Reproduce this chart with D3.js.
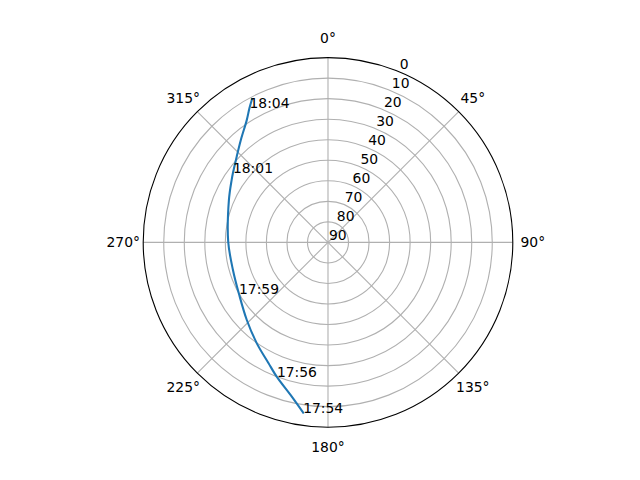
<!DOCTYPE html>
<html>
<head>
<meta charset="utf-8">
<script src="https://cdn.jsdelivr.net/npm/d3@7"></script>
<style>
  body { margin: 0; background: #fff; }
  text { font-family: "DejaVu Sans", sans-serif; font-size: 13.9px; fill: #000; }
</style>
</head>
<body>
<div id="chart"></div>
<script>
'use strict';

// Pass track: azimuth (deg, clockwise from north) and elevation (deg)
const azimuth   = [188.3, 193.2, 200.8, 206.3, 215.3, 226.3, 239.9, 253.7, 270.4, 293.2, 302.9, 306.1, 313.2, 319.6, 326.4, 329.7, 332.1];
const elevation = [  6.2,  12.8,  19.9,  24.5,  29.9,  35.3,  39.9,  41.8,  41.4,  37.5,  34.1,  32.7,  29.0,  24.5,  18.5,  14.2,  11.0];

// Time annotations: index into the track and the label
const labelIndex = [0, 2, 6, 11, 15];
const labelText  = ['17:54', '17:56', '17:59', '18:01', '18:04'];

// Axis ticks
const thetaTicks = [0, 45, 90, 135, 180, 225, 270, 315];
const rTicks     = [0, 10, 20, 30, 40, 50, 60, 70, 80, 90];
const rLabelAngle = 22.5;

const width = 640, height = 480;
const cx = 328, cy = 242.4, R = 184.8;

const svg = d3.select('#chart').append('svg')
  .attr('width', width)
  .attr('height', height);

const g = svg.append('g')
  .attr('transform', 'translate(' + cx + ',' + cy + ')');

// Elevation 90 at the centre, 0 at the rim
const r = d3.scaleLinear().domain([90, 0]).range([0, R]);
const rad = (d) => d * Math.PI / 180;
const px = (az, el) => r(el) * Math.sin(rad(az));
const py = (az, el) => -r(el) * Math.cos(rad(az));

// Grid circles
g.selectAll('.rgrid')
  .data(rTicks.filter((d) => d > 0))
  .enter().append('circle')
    .attr('class', 'rgrid')
    .attr('r', (d) => r(d))
    .attr('fill', 'none')
    .attr('stroke', '#b0b0b0')
    .attr('stroke-width', 1.1);

// Grid spokes
g.selectAll('.tgrid')
  .data(thetaTicks)
  .enter().append('line')
    .attr('class', 'tgrid')
    .attr('x1', 0).attr('y1', 0)
    .attr('x2', (d) => px(d, 0))
    .attr('y2', (d) => py(d, 0))
    .attr('stroke', '#b0b0b0')
    .attr('stroke-width', 1.1);

// Outer spine
g.append('circle')
  .attr('r', r(0))
  .attr('fill', 'none')
  .attr('stroke', '#000')
  .attr('stroke-width', 1.1);

// Theta labels
g.selectAll('.tlabel')
  .data(thetaTicks)
  .enter().append('text')
    .attr('class', 'tlabel')
    .attr('x', (d) => (R + 20) * Math.sin(rad(d)))
    .attr('y', (d) => -(R + 20) * Math.cos(rad(d)))
    .attr('text-anchor', 'middle')
    .attr('dominant-baseline', 'central')
    .text((d) => d + '°');

// Radial labels
g.selectAll('.rlabel')
  .data(rTicks)
  .enter().append('text')
    .attr('class', 'rlabel')
    .attr('x', (d) => px(rLabelAngle, d) + 1)
    .attr('y', (d) => py(rLabelAngle, d) - 2.5)
    .text((d) => d);

// Track
const track = azimuth.map((a, i) => [a, elevation[i]]);

const line = d3.lineRadial()
  .angle((d) => rad(d[0]))
  .radius((d) => r(d[1]))
  .curve(d3.curveCatmullRom);

g.append('path')
  .datum(track)
  .attr('d', line)
  .attr('fill', 'none')
  .attr('stroke', '#1f77b4')
  .attr('stroke-width', 2.08)
  .attr('stroke-linecap', 'square');

// Time annotations
g.selectAll('.tlab')
  .data(labelIndex)
  .enter().append('text')
    .attr('class', 'tlab')
    .attr('x', (i) => px(azimuth[i], elevation[i]))
    .attr('y', (i) => py(azimuth[i], elevation[i]))
    .text((i, k) => labelText[k]);
</script>
</body>
</html>
